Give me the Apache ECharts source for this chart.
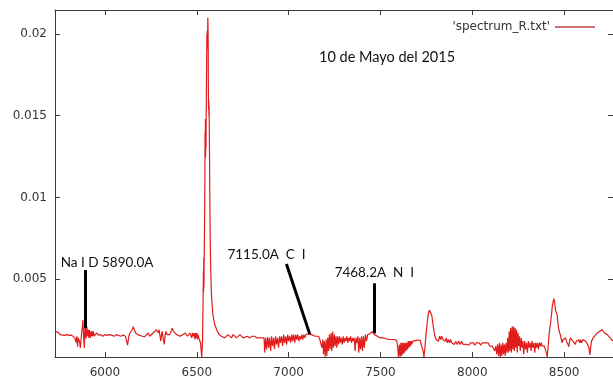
<!DOCTYPE html>
<html>
<head>
<meta charset="utf-8">
<script src="https://cdn.jsdelivr.net/npm/echarts@6/dist/echarts.min.js"></script>
<style>
  html, body { margin: 0; padding: 0; background: #fff; }
  #chart { width: 613px; height: 382px; }
</style>
</head>
<body>
<div id="chart"></div>
<script>
// Wavelength (Angstrom) and relative flux of spectrum_R.txt
const spectrum = [
  [5728,0.0018],[5737,0.0018],[5746,0.00174],[5755,0.0016],[5765,0.0016],[5780,0.00155],[5792,0.0016],[5805,0.00155],
  [5818,0.00157],[5828,0.0015],[5836,0.0014],[5842,0.00112],[5847,0.0015],[5851,0.00086],[5855,0.0014],[5859,0.0015],
  [5863,0.0011],[5866,0.00078],[5870,0.0013],[5873,0.0017],[5877,0.0021],[5880,0.0025],[5882,0.0019],[5885,0.0012],
  [5888,0.00078],[5890,0.0019],[5892,0.0024],[5895,0.0016],[5897,0.00137],[5900,0.0019],[5902,0.00208],[5905,0.0015],
  [5909,0.0019],[5912,0.0014],[5915,0.0019],[5918,0.00188],[5921,0.0014],[5924,0.0018],[5927,0.0015],[5930,0.0018],
  [5934,0.0015],[5937,0.0018],[5941,0.0015],[5946,0.0016],[5955,0.0017],[5964,0.00157],[5975,0.0016],[5988,0.0015],
  [6000,0.0016],[6012,0.00155],[6024,0.0016],[6036,0.00157],[6050,0.0015],[6062,0.0016],[6072,0.0016],[6086,0.0015],
  [6100,0.00157],[6112,0.00148],[6118,0.0012],[6123,0.00096],[6130,0.0015],[6136,0.0017],[6141,0.0018],[6148,0.0019],
  [6154,0.00208],[6160,0.0019],[6167,0.0017],[6178,0.0016],[6190,0.00155],[6203,0.0015],[6217,0.00148],[6226,0.0016],
  [6235,0.0017],[6244,0.0015],[6254,0.0015],[6262,0.0017],[6272,0.0017],[6280,0.0019],[6286,0.002],[6291,0.0017],
  [6295,0.0019],[6300,0.0015],[6304,0.0012],[6308,0.0016],[6312,0.0018],[6318,0.0013],[6323,0.001],[6328,0.0016],
  [6332,0.0018],[6338,0.0016],[6344,0.00168],[6353,0.0016],[6360,0.0018],[6366,0.002],[6373,0.0018],[6380,0.0017],
  [6390,0.0016],[6399,0.0016],[6408,0.0015],[6417,0.0015],[6424,0.0016],[6431,0.0016],[6438,0.0017],[6444,0.00165],
  [6450,0.0015],[6457,0.0015],[6462,0.0017],[6467,0.0016],[6472,0.0014],[6476,0.0017],[6480,0.0015],[6485,0.0017],
  [6490,0.0013],[6493,0.0017],[6497,0.0014],[6500,0.0017],[6504,0.0013],[6507,0.0016],[6511,0.0014],[6516,0.0015],
  [6520,0.0011],[6524,0.0006],[6527,0.00023],[6531,0.0012],
  // H-alpha emission
  [6534,0.0035],[6536,0.0055],[6537,0.0042],[6538,0.0063],[6539,0.0045],[6540,0.006],[6542,0.008],[6544,0.011],
  [6545,0.014],[6546,0.0124],[6547,0.0148],[6548,0.0125],[6549,0.0146],[6550,0.013],[6552,0.016],[6554,0.019],
  [6555,0.02],[6556,0.0192],[6557,0.0202],[6558,0.0191],[6560,0.021],[6561,0.0205],[6562,0.0196],[6563,0.0165],
  [6564,0.0154],[6565,0.016],[6566,0.015],[6567,0.0156],[6569,0.013],[6571,0.01],[6573,0.0075],[6576,0.0055],
  [6580,0.004],[6584,0.0033],[6588,0.0028],[6593,0.0025],[6598,0.0022],[6605,0.002],[6612,0.0018],[6622,0.0016],
  [6634,0.0015],[6643,0.0015],[6652,0.0014],[6660,0.0015],[6670,0.0016],[6680,0.0015],[6689,0.0014],[6698,0.0016],
  [6707,0.00155],[6716,0.0014],[6724,0.0015],[6735,0.0016],[6743,0.0015],[6752,0.0014],[6761,0.0014],[6775,0.0015],
  [6788,0.0014],[6800,0.0015],[6815,0.0015],[6828,0.0014],[6842,0.0014],[6855,0.0014],[6862,0.0013],
  // telluric band near 6900
  [6866,0.0014],[6870,0.0005],[6875,0.0014],[6880,0.0007],[6886,0.00145],[6891,0.0008],[6896,0.0014],[6902,0.0006],
  [6907,0.0015],[6912,0.0009],[6918,0.0014],[6923,0.0007],[6929,0.0015],[6934,0.001],[6940,0.0014],[6945,0.0008],
  [6951,0.0015],[6956,0.0011],[6962,0.0015],[6967,0.0009],[6973,0.0016],[6978,0.0011],[6984,0.0015],[6989,0.001],
  [6995,0.0016],[7000,0.0012],[7006,0.0015],[7011,0.0011],[7017,0.0016],[7022,0.0012],[7028,0.0016],[7033,0.0011],
  [7039,0.0016],[7044,0.0013],[7050,0.0016],[7055,0.0012],[7061,0.0015],[7066,0.0013],[7072,0.0016],[7077,0.0013],
  [7083,0.0016],[7088,0.0014],[7094,0.0016],[7100,0.0015],[7106,0.00165],[7115,0.0017],[7125,0.0016],[7135,0.0015],
  [7145,0.0015],[7155,0.0014],[7163,0.0015],[7170,0.0013],
  // telluric band near 7200
  [7176,0.0014],[7181,0.0008],[7186,0.0013],[7190,0.0004],[7195,0.0012],[7199,0.00025],[7204,0.0013],[7208,0.0003],
  [7213,0.0014],[7217,0.0006],[7222,0.0016],[7226,0.0007],[7231,0.0017],[7235,0.0006],[7240,0.00178],[7244,0.0008],
  [7249,0.0016],[7253,0.0009],[7258,0.0015],[7262,0.0008],[7267,0.0015],[7272,0.001],[7277,0.0015],[7282,0.0011],
  [7287,0.0014],[7292,0.001],[7297,0.0015],[7302,0.0011],[7307,0.0014],[7312,0.0012],[7317,0.0015],[7322,0.0011],
  [7327,0.0014],[7332,0.0012],[7337,0.0015],[7342,0.0011],[7347,0.0014],[7352,0.0012],[7357,0.0014],[7362,0.0006],
  [7367,0.0014],[7372,0.0011],[7377,0.0015],[7382,0.0005],[7387,0.0014],[7392,0.0007],[7397,0.0015],[7402,0.0006],
  [7407,0.0015],[7412,0.0008],[7418,0.0016],[7424,0.0012],[7430,0.0016],[7436,0.0017],[7442,0.00165],[7448,0.0017],
  [7454,0.00178],[7460,0.0017],[7468,0.0016],[7478,0.0015],[7490,0.00145],[7502,0.0014],[7515,0.0014],[7530,0.00135],
  [7545,0.0013],[7560,0.0013],[7575,0.0013],[7588,0.00125],[7594,0.0008],[7598,0.00023],
  // O2 A band
  [7603,0.001],[7607,0.00025],[7611,0.0011],[7615,0.0003],[7619,0.0011],[7623,0.0004],[7627,0.0011],[7631,0.0005],
  [7635,0.0011],[7639,0.0006],[7643,0.0011],[7647,0.0007],[7651,0.0012],[7655,0.0008],[7659,0.0012],[7663,0.0009],
  [7667,0.0012],[7671,0.001],[7676,0.0012],[7681,0.0011],[7686,0.00125],[7695,0.00125],[7705,0.0013],[7715,0.00127],
  [7725,0.0012],[7732,0.0006],[7737,0.00023],[7742,0.0008],[7748,0.0016],[7755,0.0024],[7761,0.0029],[7766,0.0031],
  [7770,0.0032],[7774,0.0031],[7779,0.0028],[7784,0.0024],[7790,0.0019],[7796,0.0015],[7803,0.0013],
  [7810,0.0014],[7816,0.0012],[7822,0.0015],[7828,0.0013],[7834,0.0015],[7840,0.0013],[7846,0.0014],[7852,0.0012],
  [7858,0.0014],[7864,0.0011],[7870,0.0013],[7876,0.0011],[7882,0.0013],[7888,0.0011],[7895,0.0012],[7902,0.001],
  [7910,0.0012],[7918,0.001],[7926,0.0012],[7934,0.001],[7942,0.0012],[7950,0.001],[7958,0.0011],[7966,0.001],
  [7974,0.0011],[7982,0.00095],[7990,0.0011],[7998,0.001],[8006,0.0011],[8014,0.00095],[8022,0.0011],[8030,0.001],
  [8038,0.0011],[8046,0.00095],[8054,0.0011],[8062,0.001],[8070,0.0011],[8078,0.001],[8086,0.0011],[8094,0.0009],
  [8100,0.001],[8108,0.0009],[8115,0.0008],[8122,0.0006],[8128,0.0009],[8133,0.0004],[8138,0.001],[8143,0.0003],
  [8148,0.0011],[8152,0.00023],[8157,0.001],[8161,0.0003],[8166,0.0011],[8170,0.0004],[8175,0.001],[8179,0.0003],
  [8184,0.0011],[8188,0.0005],
  // water vapour band near 8200
  [8193,0.0014],[8197,0.0005],[8201,0.0018],[8205,0.0006],[8209,0.002],[8213,0.0005],[8217,0.0021],[8221,0.0007],
  [8225,0.0021],[8229,0.0006],[8233,0.002],[8237,0.0008],[8241,0.0019],[8245,0.0005],[8249,0.0017],[8253,0.0009],
  [8257,0.0015],[8261,0.0006],[8266,0.0014],[8270,0.0008],[8275,0.0012],[8280,0.0004],[8285,0.0012],[8290,0.0007],
  [8295,0.0011],[8300,0.0005],[8305,0.0012],[8310,0.0008],[8315,0.0011],[8320,0.0006],[8325,0.0012],[8330,0.0008],
  [8335,0.0011],[8340,0.0005],[8345,0.0011],[8350,0.0008],[8355,0.0011],[8360,0.0007],[8365,0.0011],[8370,0.0009],
  [8375,0.0011],[8380,0.0009],[8386,0.001],[8392,0.0009],[8398,0.0008],[8403,0.0005],[8408,0.00023],
  // O I 8446 emission and Ca II region
  [8413,0.0009],[8418,0.0016],[8422,0.002],[8426,0.0023],[8431,0.0028],[8435,0.0033],[8440,0.0036],[8444,0.0038],
  [8448,0.0036],[8453,0.0031],[8457,0.003],[8462,0.0028],[8466,0.0023],[8471,0.0019],[8476,0.0017],[8480,0.00157],
  [8485,0.0013],[8489,0.0011],[8494,0.0013],[8498,0.0013],[8503,0.0012],[8508,0.0014],[8512,0.0012],[8516,0.00127],
  [8521,0.001],[8525,0.00086],[8530,0.0012],[8534,0.0014],[8539,0.0013],[8543,0.00147],[8548,0.0012],[8552,0.0013],
  [8557,0.0011],[8561,0.001],[8566,0.0012],[8571,0.0011],[8575,0.0013],[8580,0.00127],[8585,0.0011],[8589,0.0013],
  [8594,0.0011],[8598,0.00117],[8603,0.0013],[8607,0.0012],[8611,0.0014],[8616,0.0012],[8620,0.0013],[8625,0.00106],
  [8630,0.0011],[8635,0.0008],[8640,0.00035],[8645,0.0009],[8649,0.0012],[8653,0.00127],[8658,0.0014],[8662,0.0015],
  [8667,0.0014],[8671,0.00157],[8676,0.0016],[8680,0.0017],[8685,0.0016],[8689,0.00178],[8694,0.0018],[8698,0.0019],
  [8703,0.0018],[8707,0.0019],[8712,0.0018],[8716,0.0018],[8720,0.0017],[8725,0.0017],[8730,0.0016],[8735,0.0016],
  [8740,0.0015],[8744,0.0015],[8750,0.0014],[8756,0.0013],[8761,0.00127],[8766,0.0012]
];

// Axis ticks
const xTicks = [6000, 6500, 7000, 7500, 8000, 8500];
const yTicks = [0.005, 0.01, 0.015, 0.02];

// Identified lines: wavelength, label, top/bottom of the marker
const lineNames = ['Na I D 5890.0A', '7115.0A  C  I', '7468.2A  N  I'];
const lineWaves = [5890, 7115, 7468.2];
const markerTopWave = [5890, 6988, 7468.2];
const markerTopFlux = [0.00555, 0.00592, 0.00474];
const markerBottomFlux = [0.002, 0.00163, 0.00168];

const X_MIN = 5728, X_MAX = 8766;
const Y_MIN = 0.00023, Y_MAX = 0.02147;

const axisColor = '#3a3a3a';
const tickFont = { fontFamily: 'DejaVu Sans', fontSize: 12, color: '#333' };
const noteFont = { fontFamily: 'Lato', fontSize: 13.5, color: '#111' };

const labelOffsets = [[-24, -7], [-59, -9], [-40, -11]];

const chart = echarts.init(document.getElementById('chart'), null, { renderer: 'canvas' });

const baseX = {
  type: 'value', min: X_MIN, max: X_MAX,
  axisLine: { show: true, onZero: false, lineStyle: { color: axisColor, width: 1 } },
  axisTick: { show: true, inside: true, length: 5, customValues: xTicks, lineStyle: { color: axisColor } },
  splitLine: { show: false }
};
const baseY = {
  type: 'value', min: Y_MIN, max: Y_MAX,
  axisLine: { show: true, onZero: false, lineStyle: { color: axisColor, width: 1 } },
  axisTick: { show: true, inside: true, length: 5, customValues: yTicks, lineStyle: { color: axisColor } },
  splitLine: { show: false }
};

chart.setOption({
  animation: false,
  backgroundColor: '#ffffff',
  grid: { left: 55, right: -1, top: 10, bottom: 25 },
  title: {
    text: '10 de Mayo del 2015',
    left: 314, top: 45,
    textStyle: { fontFamily: 'Lato', fontSize: 14.5, fontWeight: 'normal', color: '#111' }
  },
  legend: {
    data: ["'spectrum_R.txt'"],
    right: 13, top: 16,
    align: 'right',
    icon: 'rect',
    itemWidth: 40, itemHeight: 2,
    itemStyle: { color: '#c87474' },
    textStyle: { fontFamily: 'DejaVu Sans', fontSize: 12, color: '#333' }
  },
  xAxis: [
    Object.assign({}, baseX, {
      position: 'bottom',
      axisLabel: Object.assign({
        show: true, margin: 10, customValues: xTicks,
        formatter: (v) => String(v)
      }, tickFont)
    }),
    Object.assign({}, baseX, { position: 'top', axisLabel: { show: false } })
  ],
  yAxis: [
    Object.assign({}, baseY, {
      position: 'left',
      axisLabel: Object.assign({
        show: true, margin: 8, customValues: yTicks,
        formatter: (v) => String(v)
      }, tickFont)
    }),
    Object.assign({}, baseY, { position: 'right', axisLabel: { show: false } })
  ],
  series: [
    {
      name: "'spectrum_R.txt'",
      type: 'line',
      data: spectrum,
      showSymbol: false,
      symbol: 'none',
      sampling: null,
      clip: true,
      color: '#c87474',
      lineStyle: { color: '#e01c1c', width: 1.2 },
      emphasis: { disabled: true }
    },
    {
      name: 'lines',
      type: 'line',
      data: [],
      silent: true,
      markLine: {
        silent: true,
        symbol: ['none', 'none'],
        animation: false,
        label: { show: false },
        lineStyle: { color: '#000', width: 3, type: 'solid' },
        data: lineWaves.map((w, i) => [
          { coord: [markerTopWave[i], markerTopFlux[i]] },
          { coord: [w, markerBottomFlux[i]] }
        ])
      },
      markPoint: {
        silent: true,
        symbol: 'circle',
        symbolSize: 0,
        animation: false,
        data: lineNames.map((name, i) => ({
          coord: [markerTopWave[i], markerTopFlux[i]],
          label: {
            show: true,
            formatter: name,
            position: labelOffsets[i],
            align: 'left',
            verticalAlign: 'middle',
            fontFamily: noteFont.fontFamily,
            fontSize: noteFont.fontSize,
            color: noteFont.color
          }
        }))
      }
    }
  ]
});
</script>
</body>
</html>
